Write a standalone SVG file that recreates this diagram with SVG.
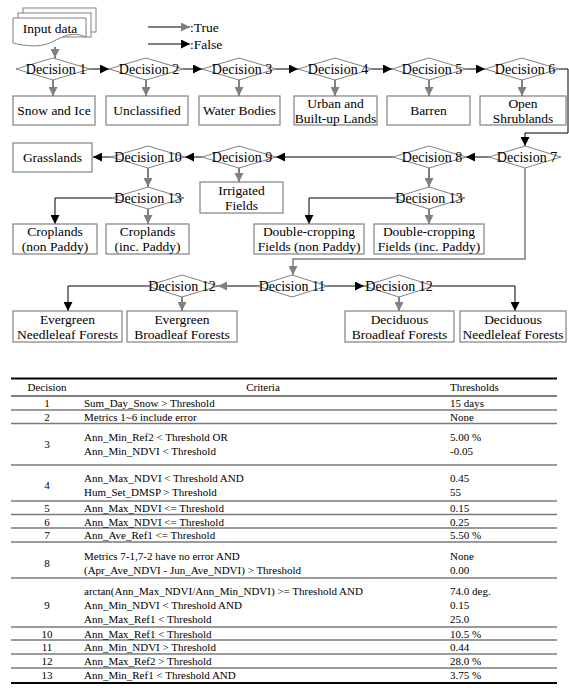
<svg xmlns="http://www.w3.org/2000/svg" width="569" height="690" viewBox="0 0 569 690">
<style>
text{font-family:"Liberation Serif","Times New Roman",serif;fill:#000}
.t{font-size:13.5px;text-anchor:middle;dominant-baseline:central}
.d{font-size:14px;text-anchor:middle;dominant-baseline:central}
.tb{font-size:11px;dominant-baseline:central}
.c{text-anchor:middle}
.box{fill:#fff;stroke:#808080;stroke-width:1.2}
.dia{fill:#fff;stroke:#808080;stroke-width:1}
.gt{fill:none;stroke:#808080;stroke-width:2}
.bf{fill:none;stroke:#000;stroke-width:1}
.sep{stroke:#7a7a7a;stroke-width:1.5}
.thick{stroke:#000;stroke-width:1.8}
</style>
<defs>
<marker id="ag" viewBox="0 0 10 10" refX="10" refY="5" markerWidth="9" markerHeight="9" markerUnits="userSpaceOnUse" orient="auto"><path d="M0,0 L10,5 L0,10 z" fill="#808080"/></marker>
<marker id="ab" viewBox="0 0 10 10" refX="10" refY="5" markerWidth="9" markerHeight="9" markerUnits="userSpaceOnUse" orient="auto"><path d="M0,0 L10,5 L0,10 z" fill="#000"/></marker>
</defs>

<g id="legend">
<line class="gt" x1="148" y1="27" x2="190" y2="27" marker-end="url(#ag)"/>
<text x="190" y="27" style="font-size:13.5px;dominant-baseline:central">:True</text>
<line class="bf" x1="148" y1="44" x2="190" y2="44" marker-end="url(#ab)"/>
<text x="190" y="44" style="font-size:13.5px;dominant-baseline:central">:False</text>
</g>

<g id="connectors">
<path class="gt" d="M55,47 V58" marker-end="url(#ag)"/>
<path class="gt" d="M53,80 V96" marker-end="url(#ag)"/>
<path class="gt" d="M146,80 V96" marker-end="url(#ag)"/>
<path class="gt" d="M239,80 V96" marker-end="url(#ag)"/>
<path class="gt" d="M335,80 V96" marker-end="url(#ag)"/>
<path class="gt" d="M429,80 V96" marker-end="url(#ag)"/>
<path class="gt" d="M522,80 V96" marker-end="url(#ag)"/>
<path class="gt" d="M239,168 V182" marker-end="url(#ag)"/>
<path class="gt" d="M148,168 V187" marker-end="url(#ag)"/>
<path class="gt" d="M429,168 V187" marker-end="url(#ag)"/>
<path class="gt" d="M148,209 V224" marker-end="url(#ag)"/>
<path class="gt" d="M429,209 V224" marker-end="url(#ag)"/>
<path class="gt" d="M525,168 V259 H293 V275" marker-end="url(#ag)" style="stroke-width:1.5"/>
<path class="gt" d="M257,286 H218" marker-end="url(#ag)"/>
<path class="gt" d="M182,297 V311" marker-end="url(#ag)"/>
<path class="gt" d="M399,297 V311" marker-end="url(#ag)"/>

<path class="bf" d="M90,69 H109" marker-end="url(#ab)"/>
<path class="bf" d="M183,69 H202" marker-end="url(#ab)"/>
<path class="bf" d="M276,69 H298" marker-end="url(#ab)"/>
<path class="bf" d="M372,69 H392" marker-end="url(#ab)"/>
<path class="bf" d="M466,69 H485" marker-end="url(#ab)"/>
<path class="bf" d="M559,69 H568 V133 H525 V146" marker-end="url(#ab)"/>
<path class="bf" d="M489,157 H466" marker-end="url(#ab)"/>
<path class="bf" d="M393,157 H276" marker-end="url(#ab)"/>
<path class="bf" d="M202,157 H185" marker-end="url(#ab)"/>
<path class="bf" d="M111,157 H93" marker-end="url(#ab)"/>
<path class="bf" d="M112,198 H55 V224" marker-end="url(#ab)"/>
<path class="bf" d="M393,198 H309 V224" marker-end="url(#ab)"/>
<path class="bf" d="M327,286 H364" marker-end="url(#ab)"/>
<path class="bf" d="M147,286 H68 V311" marker-end="url(#ab)"/>
<path class="bf" d="M434,286 H515 V311" marker-end="url(#ab)"/>
</g>

<g id="input">
<rect class="box" x="23" y="8" width="73" height="24" style="stroke-width:1"/>
<rect class="box" x="18" y="13" width="73" height="24" style="stroke-width:1"/>
<path class="box" d="M13,18 H86 V37 C72,31 64,36 52,42 C40,48 25,46 13,43 Z" style="stroke-width:1"/>
<text class="t" x="50" y="28">Input data</text>
</g>

<g id="d1"><polygon class="dia" points="16,69 53,58 90,69 53,80"/><text class="d" x="56" y="69">Decision 1</text></g>
<g id="d2"><polygon class="dia" points="109,69 146,58 183,69 146,80"/><text class="d" x="149" y="69">Decision 2</text></g>
<g id="d3"><polygon class="dia" points="202,69 239,58 276,69 239,80"/><text class="d" x="242" y="69">Decision 3</text></g>
<g id="d4"><polygon class="dia" points="298,69 335,58 372,69 335,80"/><text class="d" x="338" y="69">Decision 4</text></g>
<g id="d5"><polygon class="dia" points="392,69 429,58 466,69 429,80"/><text class="d" x="432" y="69">Decision 5</text></g>
<g id="d6"><polygon class="dia" points="485,69 522,58 559,69 522,80"/><text class="d" x="525" y="69">Decision 6</text></g>

<g id="b1"><rect class="box" x="13" y="96" width="82" height="29"/><text class="t" x="54" y="110.5">Snow and Ice</text></g>
<g id="b2"><rect class="box" x="106" y="96" width="82" height="29"/><text class="t" x="147" y="110.5">Unclassified</text></g>
<g id="b3"><rect class="box" x="199" y="96" width="81" height="29"/><text class="t" x="239.5" y="110.5">Water Bodies</text></g>
<g id="b4"><rect class="box" x="294" y="96" width="83" height="29"/><text class="t" x="335.5" y="103">Urban and</text><text class="t" x="335.5" y="118">Built-up Lands</text></g>
<g id="b5"><rect class="box" x="387" y="96" width="83" height="29"/><text class="t" x="428.5" y="110.5">Barren</text></g>
<g id="b6"><rect class="box" x="480" y="96" width="86" height="29"/><text class="t" x="523" y="103">Open</text><text class="t" x="523" y="118">Shrublands</text></g>

<g id="d7"><polygon class="dia" points="489,157 525,146 561,157 525,168"/><text class="d" x="527" y="157">Decision 7</text></g>
<g id="d8"><polygon class="dia" points="393,157 429,146 466,157 429,168"/><text class="d" x="432" y="157">Decision 8</text></g>
<g id="d9"><polygon class="dia" points="202,157 239,146 276,157 239,168"/><text class="d" x="242" y="157">Decision 9</text></g>
<g id="d10"><polygon class="dia" points="111,157 148,146 185,157 148,168"/><text class="d" x="148" y="157">Decision 10</text></g>
<g id="grass"><rect class="box" x="13" y="143" width="79" height="29"/><text class="t" x="52.5" y="157.5">Grasslands</text></g>
<g id="irr"><rect class="box" x="200" y="182" width="83" height="31"/><text class="t" x="241.5" y="190">Irrigated</text><text class="t" x="241.5" y="205">Fields</text></g>

<g id="d13a"><polygon class="dia" points="112,198 148,187 184,198 148,209"/><text class="d" x="148" y="198">Decision 13</text></g>
<g id="d13b"><polygon class="dia" points="393,198 429,187 465,198 429,209"/><text class="d" x="429" y="198">Decision 13</text></g>

<g id="crop1"><rect class="box" x="13" y="224" width="84" height="30"/><text class="t" x="55" y="231.5">Croplands</text><text class="t" x="55" y="246.5">(non Paddy)</text></g>
<g id="crop2"><rect class="box" x="106" y="224" width="83" height="30"/><text class="t" x="147.5" y="231.5">Croplands</text><text class="t" x="147.5" y="246.5">(inc. Paddy)</text></g>
<g id="dc1"><rect class="box" x="254" y="224" width="110" height="30"/><text class="t" x="309" y="231.5">Double-cropping</text><text class="t" x="309" y="246.5">Fields (non Paddy)</text></g>
<g id="dc2"><rect class="box" x="374" y="224" width="110" height="30"/><text class="t" x="429" y="231.5">Double-cropping</text><text class="t" x="429" y="246.5">Fields (inc. Paddy)</text></g>

<g id="d11"><polygon class="dia" points="257,286 292,275 327,286 292,297"/><text class="d" x="292" y="286">Decision 11</text></g>
<g id="d12a"><polygon class="dia" points="147,286 182,275 218,286 182,297"/><text class="d" x="182" y="286">Decision 12</text></g>
<g id="d12b"><polygon class="dia" points="364,286 399,275 434,286 399,297"/><text class="d" x="399" y="286">Decision 12</text></g>

<g id="en"><rect class="box" x="13" y="311" width="109" height="31"/><text class="t" x="67.5" y="319">Evergreen</text><text class="t" x="67.5" y="334">Needleleaf Forests</text></g>
<g id="eb"><rect class="box" x="127" y="311" width="110" height="31"/><text class="t" x="182" y="319">Evergreen</text><text class="t" x="182" y="334">Broadleaf Forests</text></g>
<g id="db"><rect class="box" x="345" y="311" width="109" height="31"/><text class="t" x="399.5" y="319">Deciduous</text><text class="t" x="399.5" y="334">Broadleaf Forests</text></g>
<g id="dn"><rect class="box" x="460" y="311" width="106" height="31"/><text class="t" x="513" y="319">Deciduous</text><text class="t" x="513" y="334">Needleleaf Forests</text></g>

<g id="table">
<line class="thick" x1="11" y1="378.5" x2="557" y2="378.5"/>
<line x1="11" y1="396" x2="557" y2="396" stroke="#000" stroke-width="1"/>
<line class="sep" x1="11" y1="410" x2="557" y2="410"/>
<line class="sep" x1="11" y1="423.5" x2="557" y2="423.5"/>
<line class="sep" x1="11" y1="465" x2="557" y2="465"/>
<line class="sep" x1="11" y1="501" x2="557" y2="501"/>
<line class="sep" x1="11" y1="514.5" x2="557" y2="514.5"/>
<line class="sep" x1="11" y1="528" x2="557" y2="528"/>
<line class="sep" x1="11" y1="542" x2="557" y2="542"/>
<line class="sep" x1="11" y1="578" x2="557" y2="578"/>
<line class="sep" x1="11" y1="627" x2="557" y2="627"/>
<line class="sep" x1="11" y1="640" x2="557" y2="640"/>
<line class="sep" x1="11" y1="654" x2="557" y2="654"/>
<line class="sep" x1="11" y1="668" x2="557" y2="668"/>
<line class="thick" x1="11" y1="683" x2="557" y2="683"/>

<text class="tb c" x="47" y="387">Decision</text>
<text class="tb c" x="263" y="387">Criteria</text>
<text class="tb" x="450" y="387">Thresholds</text>

<text class="tb c" x="47" y="403">1</text><text class="tb" x="84" y="403">Sum_Day_Snow &gt; Threshold</text><text class="tb" x="450" y="403">15 days</text>
<text class="tb c" x="47" y="417">2</text><text class="tb" x="84" y="417">Metrics 1~6 include error</text><text class="tb" x="450" y="417">None</text>
<text class="tb c" x="47" y="444">3</text><text class="tb" x="84" y="437">Ann_Min_Ref2 &lt; Threshold OR</text><text class="tb" x="84" y="451">Ann_Min_NDVI &lt; Threshold</text><text class="tb" x="450" y="437">5.00 %</text><text class="tb" x="450" y="451">-0.05</text>
<text class="tb c" x="47" y="485">4</text><text class="tb" x="84" y="478">Ann_Max_NDVI &lt; Threshold AND</text><text class="tb" x="84" y="492">Hum_Set_DMSP &gt; Threshold</text><text class="tb" x="450" y="478">0.45</text><text class="tb" x="450" y="492">55</text>
<text class="tb c" x="47" y="508">5</text><text class="tb" x="84" y="508">Ann_Max_NDVI &lt;= Threshold</text><text class="tb" x="450" y="508">0.15</text>
<text class="tb c" x="47" y="521.5">6</text><text class="tb" x="84" y="521.5">Ann_Max_NDVI &lt;= Threshold</text><text class="tb" x="450" y="521.5">0.25</text>
<text class="tb c" x="47" y="535">7</text><text class="tb" x="84" y="535">Ann_Ave_Ref1 &lt;= Threshold</text><text class="tb" x="450" y="535">5.50 %</text>
<text class="tb c" x="47" y="563">8</text><text class="tb" x="84" y="556">Metrics 7-1,7-2 have no error AND</text><text class="tb" x="84" y="570">(Apr_Ave_NDVI - Jun_Ave_NDVI) &gt; Threshold</text><text class="tb" x="450" y="556">None</text><text class="tb" x="450" y="570">0.00</text>
<text class="tb c" x="47" y="605">9</text><text class="tb" x="84" y="591">arctan(Ann_Max_NDVI/Ann_Min_NDVI) &gt;= Threshold AND</text><text class="tb" x="84" y="605">Ann_Min_NDVI &lt; Threshold AND</text><text class="tb" x="84" y="619">Ann_Max_Ref1 &lt; Threshold</text><text class="tb" x="450" y="591">74.0 deg.</text><text class="tb" x="450" y="605">0.15</text><text class="tb" x="450" y="619">25.0</text>
<text class="tb c" x="47" y="633.5">10</text><text class="tb" x="84" y="633.5">Ann_Max_Ref1 &lt; Threshold</text><text class="tb" x="450" y="633.5">10.5 %</text>
<text class="tb c" x="47" y="647">11</text><text class="tb" x="84" y="647">Ann_Min_NDVI &gt; Threshold</text><text class="tb" x="450" y="647">0.44</text>
<text class="tb c" x="47" y="661">12</text><text class="tb" x="84" y="661">Ann_Max_Ref2 &gt; Threshold</text><text class="tb" x="450" y="661">28.0 %</text>
<text class="tb c" x="47" y="675">13</text><text class="tb" x="84" y="675">Ann_Min_Ref1 &lt; Threshold AND</text><text class="tb" x="450" y="675">3.75 %</text>
</g>
</svg>
